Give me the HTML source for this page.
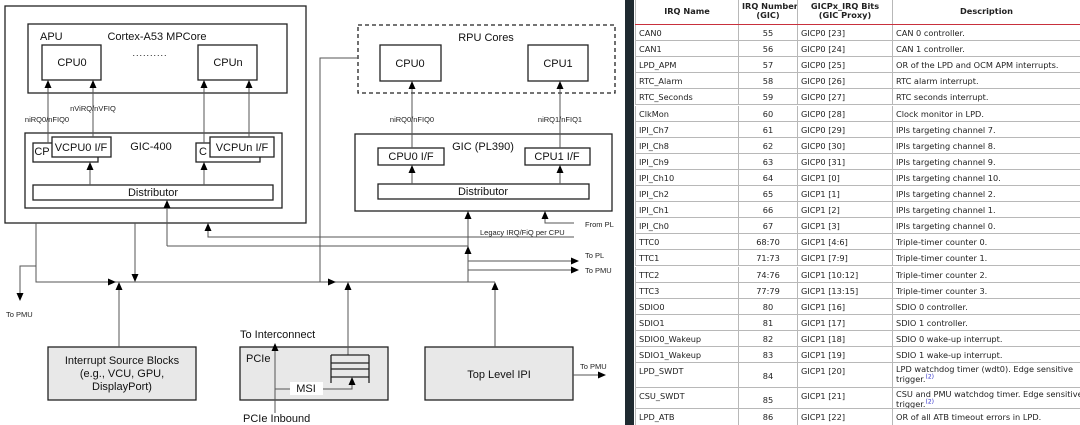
<!DOCTYPE html>
<html><head><meta charset="utf-8"><style>
body{margin:0;width:1080px;height:425px;overflow:hidden;background:#fff;font-family:"Liberation Sans",Arial,sans-serif}
svg{position:absolute;left:0;top:0}
#tbl{position:absolute;left:625px;top:0;width:455px;height:425px;background:#fff;overflow:hidden}
#strip{position:absolute;left:0;top:0;width:9px;height:425px;background:#1f2a30}
.r{position:absolute;left:10px;width:445px;border-bottom:1px solid #b8b8b8;box-sizing:border-box;font-family:"DejaVu Sans","Liberation Sans",sans-serif;font-size:8.2px;color:#222}
.r div{position:absolute;top:0;bottom:0;border-left:1px solid #b8b8b8;padding:3px 3px 0;box-sizing:border-box;white-space:nowrap;overflow:hidden;line-height:10px}
.c1{left:0;width:103px}.c2{left:103px;width:59px;text-align:center}.c3{left:162px;width:95px}.c4{left:257px;width:188px}
.h{font-weight:bold;border-bottom:1.5px solid #c8303c}
.h div{text-align:center;padding-top:2px;line-height:9px}
.t .c4{line-height:9.5px;padding-top:2px}
sup{color:#33c;font-size:6px;line-height:0}
</style></head><body>
<svg width="625" height="425" viewBox="0 0 625 425" font-family="Liberation Sans, Arial, sans-serif">
<defs><marker id="a" markerWidth="8" markerHeight="8" refX="7" refY="4" orient="auto" markerUnits="userSpaceOnUse"><path d="M0,0.5 L8,4 L0,7.5z" fill="#000"/></marker></defs>
<g fill="none" stroke="#222" stroke-width="1.3">
<rect x="5" y="6" width="301" height="217"/>
<rect x="28" y="24" width="259" height="69"/>
<rect x="42" y="45" width="59" height="35"/>
<rect x="198" y="45" width="59" height="35"/>
<rect x="25" y="133" width="257" height="75"/>
<rect x="33" y="143" width="65" height="19" fill="#fff"/>
<rect x="52" y="137" width="59" height="20" fill="#fff"/>
<rect x="196" y="143" width="64" height="19" fill="#fff"/>
<rect x="210" y="137" width="64" height="20" fill="#fff"/>
<rect x="33" y="185" width="240" height="15"/>
<rect x="358" y="25" width="257" height="68" stroke-dasharray="4,3"/>
<rect x="380" y="45" width="61" height="36"/>
<rect x="528" y="45" width="60" height="36"/>
<rect x="355" y="134" width="257" height="77"/>
<rect x="378" y="148" width="66" height="17"/>
<rect x="525" y="148" width="65" height="17"/>
<rect x="378" y="184" width="211" height="15"/>
<rect x="48" y="347" width="148" height="53" fill="#e8e8e8"/>
<rect x="240" y="347" width="148" height="53" fill="#e8e8e8"/>
<rect x="425" y="347" width="148" height="53" fill="#e8e8e8"/>
</g>
<g stroke="#555" stroke-width="1" fill="none">
<line x1="48" y1="143" x2="48" y2="81" marker-end="url(#a)"/>
<line x1="93" y1="137" x2="93" y2="81" marker-end="url(#a)"/>
<line x1="204" y1="143" x2="204" y2="81" marker-end="url(#a)"/>
<line x1="249" y1="137" x2="249" y2="81" marker-end="url(#a)"/>
<line x1="90" y1="185" x2="90" y2="163" marker-end="url(#a)"/>
<line x1="204" y1="185" x2="204" y2="163" marker-end="url(#a)"/>
<line x1="412" y1="148" x2="412" y2="82" marker-end="url(#a)"/>
<line x1="560" y1="148" x2="560" y2="82" marker-end="url(#a)"/>
<line x1="412" y1="184" x2="412" y2="166" marker-end="url(#a)"/>
<line x1="560" y1="184" x2="560" y2="166" marker-end="url(#a)"/>
<polyline points="358,58 320,58 320,282"/>
<polyline points="36,223 36,282 495,282"/>
<line x1="36" y1="282" x2="115" y2="282" marker-end="url(#a)"/>
<line x1="320" y1="282" x2="335" y2="282" marker-end="url(#a)"/>
<polyline points="36,266 20,266 20,300" marker-end="url(#a)"/>
<line x1="135" y1="223" x2="135" y2="281" marker-end="url(#a)"/>
<line x1="119" y1="347" x2="119" y2="283" marker-end="url(#a)"/>
<polyline points="167,246 167,201" marker-end="url(#a)"/>
<line x1="167" y1="246" x2="468" y2="246"/>
<line x1="468" y1="282" x2="468" y2="212" marker-end="url(#a)"/>
<line x1="468" y1="282" x2="468" y2="247" marker-end="url(#a)"/>
<polyline points="574,237 208,237 208,224" marker-end="url(#a)"/>
<polyline points="574,223 545,223 545,212" marker-end="url(#a)"/>
<line x1="468" y1="261" x2="578" y2="261" marker-end="url(#a)"/>
<line x1="468" y1="270" x2="578" y2="270" marker-end="url(#a)"/>
<line x1="348" y1="355" x2="348" y2="283" marker-end="url(#a)"/>
<line x1="495" y1="347" x2="495" y2="283" marker-end="url(#a)"/>
<line x1="573" y1="375" x2="605" y2="375" marker-end="url(#a)"/>
<line x1="275" y1="413" x2="275" y2="344" marker-end="url(#a)"/>
<polyline points="275,389 352,389 352,378" marker-end="url(#a)"/>
</g>
<g stroke="#222" stroke-width="1.3" fill="none">
<line x1="331" y1="355" x2="369" y2="355"/><line x1="331" y1="363" x2="369" y2="363"/>
<line x1="331" y1="369" x2="369" y2="369"/><line x1="331" y1="377" x2="369" y2="377"/>
<line x1="331" y1="355" x2="331" y2="383"/><line x1="369" y1="355" x2="369" y2="383"/>
</g>
<rect x="290" y="382" width="33" height="13" fill="#fff"/>
<g font-size="11" fill="#111" text-anchor="middle">
<text x="40" y="40" text-anchor="start">APU</text>
<text x="157" y="40">Cortex-A53 MPCore</text>
<text x="150" y="56" font-size="9" letter-spacing="1">..........</text>
<text x="72" y="66">CPU0</text><text x="228" y="66">CPUn</text>
<text x="42" y="155">CP</text><text x="81" y="151">VCPU0 I/F</text>
<text x="151" y="150">GIC-400</text>
<text x="203" y="155">C</text><text x="242" y="151">VCPUn I/F</text>
<text x="153" y="196">Distributor</text>
<text x="486" y="41">RPU Cores</text>
<text x="410" y="67">CPU0</text><text x="558" y="67">CPU1</text>
<text x="483" y="150">GIC (PL390)</text>
<text x="411" y="160">CPU0 I/F</text><text x="557" y="160">CPU1 I/F</text>
<text x="483" y="195">Distributor</text>
<text x="122" y="364">Interrupt Source Blocks</text>
<text x="122" y="377">(e.g., VCU, GPU,</text>
<text x="122" y="390">DisplayPort)</text>
<text x="246" y="362" text-anchor="start">PCIe</text>
<text x="240" y="338" text-anchor="start">To Interconnect</text>
<text x="243" y="422" text-anchor="start">PCIe Inbound</text>
<text x="306" y="392">MSI</text>
<text x="499" y="378">Top Level IPI</text>
</g>
<g font-size="7.5" fill="#222">
<text x="93" y="111" text-anchor="middle">nViRQ/nVFIQ</text>
<text x="47" y="122" text-anchor="middle">niRQ0/nFIQ0</text>
<text x="412" y="122" text-anchor="middle">niRQ0/nFIQ0</text>
<text x="560" y="122" text-anchor="middle">niRQ1/nFIQ1</text>
<text x="585" y="227">From PL</text>
<text x="480" y="235">Legacy IRQ/FiQ per CPU</text>
<text x="585" y="258">To PL</text>
<text x="585" y="273">To PMU</text>
<text x="6" y="317">To PMU</text>
<text x="580" y="369">To PMU</text>
</g>
</svg>
<div id="tbl"><div id="strip"></div>
<div class="r h" style="top:0;height:25px"><div class="c1" style="padding-top:7px">IRQ Name</div><div class="c2">IRQ Number<br>(GIC)</div><div class="c3">GICPx_IRQ Bits<br>(GIC Proxy)</div><div class="c4" style="padding-top:7px">Description</div></div>
<div class="r" style="top:25px;height:16.1px"><div class="c1">CAN0</div><div class="c2">55</div><div class="c3">GICP0 [23]</div><div class="c4">CAN 0 controller.</div></div>
<div class="r" style="top:41.1px;height:16.1px"><div class="c1">CAN1</div><div class="c2">56</div><div class="c3">GICP0 [24]</div><div class="c4">CAN 1 controller.</div></div>
<div class="r" style="top:57.2px;height:16.1px"><div class="c1">LPD_APM</div><div class="c2">57</div><div class="c3">GICP0 [25]</div><div class="c4">OR of the LPD and OCM APM interrupts.</div></div>
<div class="r" style="top:73.3px;height:16.1px"><div class="c1">RTC_Alarm</div><div class="c2">58</div><div class="c3">GICP0 [26]</div><div class="c4">RTC alarm interrupt.</div></div>
<div class="r" style="top:89.4px;height:16.1px"><div class="c1">RTC_Seconds</div><div class="c2">59</div><div class="c3">GICP0 [27]</div><div class="c4">RTC seconds interrupt.</div></div>
<div class="r" style="top:105.5px;height:16.1px"><div class="c1">ClkMon</div><div class="c2">60</div><div class="c3">GICP0 [28]</div><div class="c4">Clock monitor in LPD.</div></div>
<div class="r" style="top:121.6px;height:16.1px"><div class="c1">IPI_Ch7</div><div class="c2">61</div><div class="c3">GICP0 [29]</div><div class="c4">IPIs targeting channel 7.</div></div>
<div class="r" style="top:137.7px;height:16.1px"><div class="c1">IPI_Ch8</div><div class="c2">62</div><div class="c3">GICP0 [30]</div><div class="c4">IPIs targeting channel 8.</div></div>
<div class="r" style="top:153.8px;height:16.1px"><div class="c1">IPI_Ch9</div><div class="c2">63</div><div class="c3">GICP0 [31]</div><div class="c4">IPIs targeting channel 9.</div></div>
<div class="r" style="top:169.9px;height:16.1px"><div class="c1">IPI_Ch10</div><div class="c2">64</div><div class="c3">GICP1 [0]</div><div class="c4">IPIs targeting channel 10.</div></div>
<div class="r" style="top:186px;height:16.1px"><div class="c1">IPI_Ch2</div><div class="c2">65</div><div class="c3">GICP1 [1]</div><div class="c4">IPIs targeting channel 2.</div></div>
<div class="r" style="top:202.1px;height:16.1px"><div class="c1">IPI_Ch1</div><div class="c2">66</div><div class="c3">GICP1 [2]</div><div class="c4">IPIs targeting channel 1.</div></div>
<div class="r" style="top:218.2px;height:16.1px"><div class="c1">IPI_Ch0</div><div class="c2">67</div><div class="c3">GICP1 [3]</div><div class="c4">IPIs targeting channel 0.</div></div>
<div class="r" style="top:234.3px;height:16.1px"><div class="c1">TTC0</div><div class="c2">68:70</div><div class="c3">GICP1 [4:6]</div><div class="c4">Triple-timer counter 0.</div></div>
<div class="r" style="top:250.4px;height:16.1px"><div class="c1">TTC1</div><div class="c2">71:73</div><div class="c3">GICP1 [7:9]</div><div class="c4">Triple-timer counter 1.</div></div>
<div class="r" style="top:266.5px;height:16.1px"><div class="c1">TTC2</div><div class="c2">74:76</div><div class="c3">GICP1 [10:12]</div><div class="c4">Triple-timer counter 2.</div></div>
<div class="r" style="top:282.6px;height:16.1px"><div class="c1">TTC3</div><div class="c2">77:79</div><div class="c3">GICP1 [13:15]</div><div class="c4">Triple-timer counter 3.</div></div>
<div class="r" style="top:298.7px;height:16.1px"><div class="c1">SDIO0</div><div class="c2">80</div><div class="c3">GICP1 [16]</div><div class="c4">SDIO 0 controller.</div></div>
<div class="r" style="top:314.8px;height:16.1px"><div class="c1">SDIO1</div><div class="c2">81</div><div class="c3">GICP1 [17]</div><div class="c4">SDIO 1 controller.</div></div>
<div class="r" style="top:330.9px;height:16.1px"><div class="c1">SDIO0_Wakeup</div><div class="c2">82</div><div class="c3">GICP1 [18]</div><div class="c4">SDIO 0 wake-up interrupt.</div></div>
<div class="r" style="top:347px;height:16px"><div class="c1">SDIO1_Wakeup</div><div class="c2">83</div><div class="c3">GICP1 [19]</div><div class="c4">SDIO 1 wake-up interrupt.</div></div>
<div class="r t" style="top:363px;height:25px"><div class="c1">LPD_SWDT</div><div class="c2" style="padding-top:8px">84</div><div class="c3">GICP1 [20]</div><div class="c4">LPD watchdog timer (wdt0). Edge sensitive<br>trigger.<sup>(2)</sup></div></div>
<div class="r t" style="top:388px;height:21px"><div class="c1">CSU_SWDT</div><div class="c2" style="padding-top:7px">85</div><div class="c3">GICP1 [21]</div><div class="c4">CSU and PMU watchdog timer. Edge sensitive<br>trigger.<sup>(2)</sup></div></div>
<div class="r" style="top:409px;height:17px;border-bottom:none"><div class="c1">LPD_ATB</div><div class="c2">86</div><div class="c3">GICP1 [22]</div><div class="c4">OR of all ATB timeout errors in LPD.</div></div>
</div>
</body></html>
